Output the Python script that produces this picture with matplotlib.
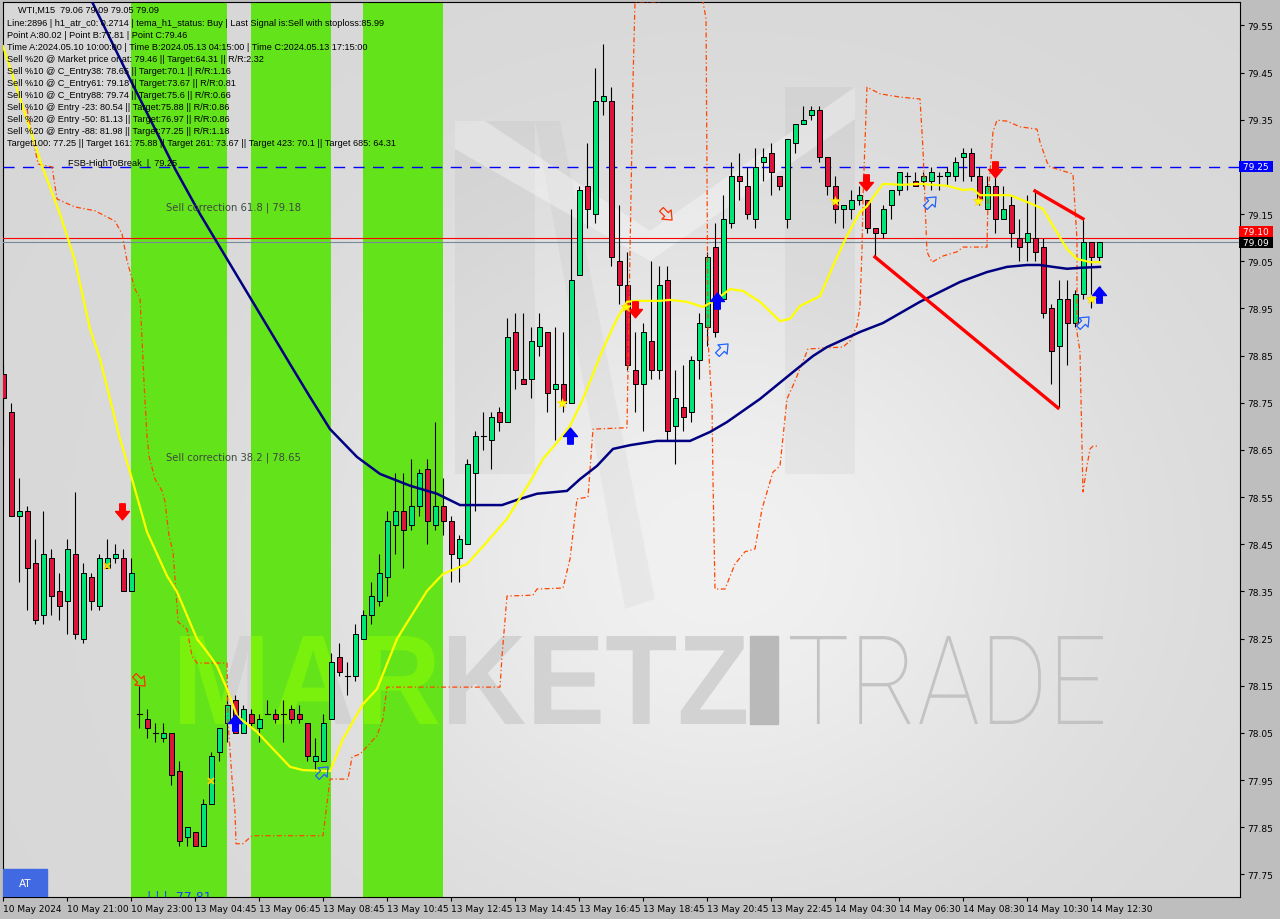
import numpy as np
import matplotlib
matplotlib.use("Agg")
import matplotlib.pyplot as plt
from matplotlib.patches import Rectangle, PathPatch, Polygon
from matplotlib.path import Path
from matplotlib.textpath import TextPath
from matplotlib.font_manager import FontProperties
from matplotlib.transforms import Affine2D

W, H = 1280, 920

# --- OHLC (WTI M15), one value per candle ---
opens = [78.81, 78.73, 78.51, 78.52, 78.41, 78.30, 78.42, 78.35, 78.33, 78.43,
         78.25, 78.38, 78.32, 78.40, 78.42, 78.42, 78.35, 78.09, 78.08, 78.05,
         78.04, 78.05, 77.97, 77.83, 77.84, 77.81, 77.90, 78.01, 78.07, 78.12,
         78.05, 78.09, 78.06, 78.09, 78.09, 78.09, 78.10, 78.09, 78.07, 77.99,
         77.99, 78.08, 78.21, 78.17, 78.17, 78.25, 78.30, 78.33, 78.38, 78.49,
         78.52, 78.49, 78.53, 78.61, 78.49, 78.53, 78.50, 78.42, 78.45, 78.60,
         78.68, 78.67, 78.73, 78.71, 78.90, 78.80, 78.80, 78.87, 78.90, 78.78,
         78.79, 78.75, 79.02, 79.21, 79.15, 79.39, 79.39, 79.05, 79.00, 78.82,
         78.79, 78.88, 78.82, 79.01, 78.70, 78.74, 78.73, 78.84, 78.91, 79.08,
         78.97, 79.13, 79.23, 79.21, 79.14, 79.26, 79.28, 79.23, 79.14, 79.30,
         79.34, 79.36, 79.37, 79.27, 79.21, 79.16, 79.16, 79.18, 79.18, 79.12,
         79.11, 79.17, 79.20, 79.23, 79.22, 79.22, 79.22, 79.23, 79.23, 79.23,
         79.27, 79.28, 79.23, 79.16, 79.21, 79.14, 79.17, 79.10, 79.09, 79.10,
         79.08, 78.95, 78.87, 78.97, 78.92, 78.98, 79.09, 79.06]
highs = [78.83, 78.75, 78.59, 78.53, 78.46, 78.52, 78.44, 78.39, 78.46, 78.56,
         78.41, 78.39, 78.43, 78.46, 78.45, 78.44, 78.42, 78.15, 78.10, 78.07,
         78.07, 78.05, 77.99, 77.85, 77.84, 77.91, 78.01, 78.06, 78.13, 78.13,
         78.11, 78.10, 78.09, 78.12, 78.10, 78.12, 78.11, 78.11, 78.07, 78.04,
         78.09, 78.22, 78.24, 78.20, 78.28, 78.31, 78.37, 78.43, 78.52, 78.60,
         78.60, 78.63, 78.61, 78.63, 78.71, 78.59, 78.51, 78.47, 78.63, 78.69,
         78.73, 78.73, 78.74, 78.93, 78.94, 78.94, 78.91, 78.94, 78.90, 78.91,
         78.90, 79.16, 79.21, 79.30, 79.46, 79.51, 79.42, 79.17, 79.07, 78.90,
         78.92, 79.05, 79.04, 79.04, 78.82, 78.83, 78.85, 78.94, 79.07, 79.13,
         79.19, 79.26, 79.28, 79.25, 79.29, 79.29, 79.30, 79.23, 79.31, 79.34,
         79.38, 79.38, 79.38, 79.27, 79.23, 79.17, 79.20, 79.21, 79.18, 79.12,
         79.17, 79.20, 79.24, 79.24, 79.24, 79.24, 79.25, 79.24, 79.25, 79.27,
         79.29, 79.29, 79.25, 79.23, 79.23, 79.21, 79.19, 79.14, 79.19, 79.20,
         79.10, 78.96, 79.01, 79.01, 78.99, 79.14, 79.09, 79.09]
lows = [78.66, 78.51, 78.37, 78.31, 78.28, 78.28, 78.30, 78.29, 78.26, 78.25,
        78.24, 78.31, 78.31, 78.40, 78.41, 78.35, 78.35, 78.06, 78.04, 78.03,
        78.03, 77.94, 77.81, 77.81, 77.81, 77.81, 77.90, 77.99, 78.03, 78.05,
        78.05, 78.06, 78.03, 78.09, 78.07, 78.03, 78.07, 78.07, 77.99, 77.97,
        77.99, 78.08, 78.17, 78.13, 78.16, 78.25, 78.28, 78.32, 78.34, 78.43,
        78.40, 78.48, 78.51, 78.45, 78.48, 78.47, 78.37, 78.37, 78.45, 78.52,
        78.65, 78.61, 78.69, 78.71, 78.78, 78.79, 78.76, 78.85, 78.73, 78.67,
        78.73, 78.75, 79.02, 79.12, 79.13, 79.36, 79.04, 78.96, 78.82, 78.73,
        78.69, 78.80, 78.80, 78.67, 78.62, 78.69, 78.71, 78.80, 78.87, 78.89,
        78.97, 79.12, 79.18, 79.14, 79.12, 79.22, 79.19, 79.20, 79.12, 79.28,
        79.34, 79.35, 79.26, 79.19, 79.13, 79.12, 79.14, 79.17, 79.11, 79.06,
        79.10, 79.14, 79.19, 79.20, 79.21, 79.21, 79.20, 79.20, 79.21, 79.22,
        79.22, 79.22, 79.17, 79.16, 79.11, 79.14, 79.08, 79.05, 79.05, 79.05,
        78.93, 78.79, 78.74, 78.83, 78.91, 78.97, 78.95, 79.05]
closes = [78.76, 78.51, 78.52, 78.40, 78.29, 78.43, 78.34, 78.32, 78.44, 78.26,
          78.39, 78.33, 78.42, 78.42, 78.43, 78.35, 78.39, 78.09, 78.06, 78.05,
          78.05, 77.96, 77.82, 77.85, 77.81, 77.90, 78.00, 78.06, 78.11, 78.05,
          78.10, 78.07, 78.08, 78.09, 78.08, 78.09, 78.08, 78.08, 78.00, 78.00,
          78.07, 78.20, 78.18, 78.17, 78.26, 78.30, 78.34, 78.39, 78.50, 78.52,
          78.48, 78.53, 78.60, 78.50, 78.53, 78.50, 78.43, 78.46, 78.62, 78.68,
          78.68, 78.72, 78.71, 78.89, 78.82, 78.79, 78.88, 78.91, 78.77, 78.79,
          78.75, 79.01, 79.20, 79.16, 79.39, 79.40, 79.06, 79.00, 78.83, 78.79,
          78.90, 78.82, 79.00, 78.69, 78.76, 78.72, 78.84, 78.92, 79.06, 78.90,
          79.14, 79.23, 79.22, 79.15, 79.25, 79.27, 79.24, 79.21, 79.31, 79.34,
          79.35, 79.37, 79.27, 79.21, 79.16, 79.17, 79.18, 79.19, 79.12, 79.11,
          79.16, 79.20, 79.24, 79.23, 79.21, 79.23, 79.24, 79.23, 79.24, 79.26,
          79.28, 79.23, 79.18, 79.21, 79.14, 79.16, 79.11, 79.08, 79.11, 79.07,
          78.94, 78.86, 78.97, 78.92, 78.98, 79.09, 79.06, 79.09]

time_labels = ["10 May 2024", "10 May 21:00", "10 May 23:00", "13 May 04:45",
               "13 May 06:45", "13 May 08:45", "13 May 10:45", "13 May 12:45",
               "13 May 14:45", "13 May 16:45", "13 May 18:45", "13 May 20:45",
               "13 May 22:45", "14 May 04:30", "14 May 06:30", "14 May 08:30",
               "14 May 10:30", "14 May 12:30"]
price_ticks = [77.75, 77.85, 77.95, 78.05, 78.15, 78.25, 78.35, 78.45, 78.55,
               78.65, 78.75, 78.85, 78.95, 79.05, 79.15, 79.25, 79.35, 79.45, 79.55]

# sell-zone bands (candle index from/to)
band_from = [16, 31, 45]
band_to = [28, 41, 55]

# yellow fast average (vertex index, price)
yel_idx = [-0.04, 4.84, 7.09, 8.96, 10.84, 12.09, 13.34, 14.59, 15.84, 17.96, 20.46,
           21.71, 24.21, 25.46, 26.71, 27.96, 29.21, 30.46, 31.71, 33.71, 35.84,
           37.46, 40.84, 42.46, 44.96, 46.71, 49.21, 49.96, 52.96, 54.96, 57.96,
           60.46, 62.96, 65.84, 67.46, 69.59, 70.84, 72.46, 74.96, 76.71, 77.96,
           79.21, 82.09, 83.34, 85.46, 87.46, 89.21, 90.84, 92.46, 94.59, 97.09,
           98.34, 99.59, 102.09, 103.71, 105.46, 107.09, 107.96, 109.96, 112.46,
           114.59, 117.96, 119.96, 121.21, 122.09, 125.84, 128.34, 129.96, 131.21,
           132.96, 134.21, 135.84, 137.09]
yel_val = [79.506, 79.252, 79.150, 79.051, 78.906, 78.843, 78.758, 78.673, 78.603,
           78.476, 78.383, 78.349, 78.249, 78.222, 78.192, 78.143, 78.086, 78.069,
           78.052, 78.016, 77.978, 77.971, 77.969, 78.037, 78.111, 78.143, 78.249,
           78.270, 78.351, 78.387, 78.408, 78.455, 78.504, 78.582, 78.631, 78.673,
           78.701, 78.758, 78.864, 78.928, 78.964, 78.966, 78.966, 78.968, 78.964,
           78.953, 78.970, 78.991, 78.987, 78.964, 78.923, 78.928, 78.955, 78.976,
           79.040, 79.104, 79.154, 79.167, 79.214, 79.212, 79.214, 79.210, 79.201,
           79.203, 79.190, 79.190, 79.173, 79.161, 79.125, 79.076, 79.055, 79.048,
           79.048]

# navy slow average
navy_idx = [11.09, 15.84, 21.46, 24.59, 28.34, 32.09, 35.84, 38.34, 40.84, 44.21,
            47.09, 50.84, 54.21, 57.09, 62.34, 64.21, 66.71, 70.46, 72.09, 74.21,
            76.21, 78.34, 81.71, 85.84, 88.34, 90.46, 94.59, 98.71, 101.21, 102.96,
            107.09, 109.96, 114.59, 119.59, 122.96, 125.46, 127.96, 129.59, 131.21,
            132.96, 134.59, 137.09]
navy_val = [79.600, 79.436, 79.246, 79.150, 79.044, 78.938, 78.832, 78.762, 78.694,
            78.635, 78.599, 78.574, 78.557, 78.533, 78.533, 78.544, 78.557, 78.563,
            78.588, 78.616, 78.652, 78.660, 78.669, 78.669, 78.688, 78.709, 78.758,
            78.815, 78.849, 78.868, 78.900, 78.919, 78.964, 79.006, 79.027, 79.038,
            79.042, 79.042, 79.038, 79.034, 79.036, 79.038]

# orange-red stepped channel
chan_idx = [2.96, 3.71, 4.34, 6.09, 6.71, 8.96, 11.46, 13.96, 14.84, 15.46, 16.46,
            17.09, 17.46, 17.59, 17.96, 18.21, 18.96, 19.84, 20.21, 20.71, 21.21,
            21.46, 21.84, 22.96, 23.59, 24.21, 27.96, 28.09, 28.59, 28.96, 29.09,
            29.96, 31.09, 39.96, 40.84, 43.09, 43.59, 44.59, 46.71, 47.46, 47.96,
            62.09, 62.34, 62.96, 66.21, 66.71, 69.96, 70.84, 71.71, 73.09, 73.71,
            77.96, 78.34, 78.71, 78.96, 82.09, 82.34, 87.09, 87.46, 87.84, 88.09,
            88.59, 88.71, 88.96, 90.21, 91.46, 92.71, 93.96, 94.84, 96.21, 97.09,
            97.96, 98.71, 99.59, 100.59, 104.96, 105.84, 106.71, 107.09, 107.34,
            107.46, 107.96, 109.59, 112.09, 114.59, 114.96, 115.46, 116.09, 117.46,
            119.21, 119.96, 122.96, 123.09, 123.71, 124.21, 125.46, 127.09, 129.21,
            129.59, 130.46, 130.84, 133.71, 134.21, 134.21, 134.59, 134.96, 135.46,
            135.84, 136.21, 136.84]
chan_val = [79.373, 79.309, 79.256, 79.250, 79.182, 79.165, 79.157, 79.135, 79.108,
            79.051, 78.991, 78.970, 78.843, 78.790, 78.680, 78.637, 78.588, 78.563,
            78.540, 78.468, 78.434, 78.377, 78.285, 78.270, 78.213, 78.198, 78.198,
            78.073, 77.952, 77.882, 77.815, 77.815, 77.832, 77.832, 77.952, 77.952,
            77.999, 78.005, 78.044, 78.080, 78.147, 78.147, 78.213, 78.340, 78.342,
            78.355, 78.357, 78.419, 78.546, 78.550, 78.694, 78.697, 79.070, 79.430,
            79.600, 79.600, 79.648, 79.648, 79.600, 79.564, 78.885, 78.743, 78.588,
            78.355, 78.355, 78.408, 78.434, 78.440, 78.525, 78.603, 78.616, 78.758,
            78.786, 78.822, 78.864, 78.868, 78.881, 78.913, 78.955, 79.076, 79.182,
            79.419, 79.405, 79.398, 79.394, 79.288, 79.070, 79.048, 79.061, 79.070,
            79.080, 79.080, 79.182, 79.324, 79.349, 79.347, 79.335, 79.330, 79.303,
            79.260, 79.250, 79.235, 79.097, 78.900, 78.858, 78.561, 78.616, 78.652,
            78.658, 78.658]

# red pattern legs
leg1_idx, leg1_val = [128.96, 134.96], [79.199, 79.140]
leg2_idx, leg2_val = [108.96, 131.84], [79.059, 78.739]

# signal markers
sell_idx, sell_val = [14.84, 78.96, 107.84, 123.96], [78.521, 78.949, 79.218, 79.246]
buy_idx, buy_val = [28.96, 70.84, 89.21, 136.96], [78.071, 78.680, 78.966, 78.979]
hsell_idx, hsell_val = [16.96, 82.84], [78.162, 79.150]
hbuy_idx, hbuy_val = [39.84, 89.84, 115.84, 134.96], [77.967, 78.864, 79.176, 78.921]
star_idx, star_val = [69.84, 77.84, 103.96, 121.84, 135.96], [78.750, 78.953, 79.178, 79.178, 78.970]
cross_idx, cross_val = [12.96, 25.96], [78.404, 77.948]

fsb_level = 79.25
bid_level = 79.09
ask_level = 79.10

info_lines = [
    "Line:2896 | h1_atr_c0: 0.2714 | tema_h1_status: Buy | Last Signal is:Sell with stoploss:85.99",
    "Point A:80.02 | Point B:77.81 | Point C:79.46",
    "Time A:2024.05.10 10:00:00 | Time B:2024.05.13 04:15:00 | Time C:2024.05.13 17:15:00",
    "Sell %20 @ Market price or at: 79.46 || Target:64.31 || R/R:2.32",
    "Sell %10 @ C_Entry38: 78.65 || Target:70.1 || R/R:1.16",
    "Sell %10 @ C_Entry61: 79.18 || Target:73.67 || R/R:0.81",
    "Sell %10 @ C_Entry88: 79.74 || Target:75.6 || R/R:0.66",
    "Sell %10 @ Entry -23: 80.54 || Target:75.88 || R/R:0.86",
    "Sell %20 @ Entry -50: 81.13 || Target:76.97 || R/R:0.86",
    "Sell %20 @ Entry -88: 81.98 || Target:77.25 || R/R:1.18",
    "Target100: 77.25 || Target 161: 75.88 || Target 261: 73.67 || Target 423: 70.1 || Target 685: 64.31",
]

# --- figure ---
YTOP, YBOT = 79.5996, 77.702
XL, XR = -0.04, 154.59
fig = plt.figure(figsize=(W / 100, H / 100), dpi=100, facecolor="#bebebe")
ax = fig.add_axes([3 / W, 22 / H, 1237 / W, 895 / H])
ax.set_xlim(XL, XR)
ax.set_ylim(YBOT, YTOP)

# background shading
u = np.linspace(0, 1, 300)[None, :]
v = np.linspace(0, 1, 300)[:, None]
shade = 0.845 + 0.10 * np.exp(-((u - 0.58) ** 2 / 0.10 + (v - 0.62) ** 2 / 0.15))
ax.imshow(np.dstack([shade] * 3), extent=[XL, XR, YBOT, YTOP], aspect="auto",
          zorder=0, interpolation="bilinear")

# faint "M" logo behind the chart (pixel coords from top-left)
def px_poly(pts, **kw):
    p = Polygon([(x, H - y) for x, y in pts], closed=True, transform=None, **kw)
    ax.add_artist(p)
    return p


px_poly([(455, 122), (535, 122), (535, 475), (455, 475)], facecolor="black", alpha=0.035,
        edgecolor="none", zorder=0.5)
px_poly([(785, 88), (855, 88), (855, 475), (785, 475)], facecolor="black", alpha=0.035,
        edgecolor="none", zorder=0.5)
px_poly([(535, 122), (560, 122), (655, 600), (625, 610)], facecolor="black", alpha=0.03,
        edgecolor="none", zorder=0.5)
px_poly([(455, 122), (485, 122), (650, 232), (855, 88), (855, 120), (650, 262), (455, 150)],
        facecolor="white", alpha=0.35, edgecolor="none", zorder=0.5)


# watermark words
def word_patch(txt, box, prop, color, zorder):
    tp = TextPath((0, 0), txt, size=100, prop=prop)
    bb = tp.get_extents()
    x0, y0, x1, y1 = box
    tr = (Affine2D().translate(-bb.x0, -bb.y0)
          .scale((x1 - x0) / bb.width, (y1 - y0) / bb.height)
          .translate(x0, H - y1))
    p = PathPatch(tr.transform_path(tp), facecolor=color, edgecolor="none",
                  zorder=zorder, transform=None)
    ax.add_artist(p)
    return p


bold = FontProperties(family="Liberation Sans", weight="bold")
thin = FontProperties(family="Roboto", weight="light")
word_patch("MARKETZ", (180, 637, 746, 725), bold, "#d2d2d2", 1)
ax.add_artist(Rectangle((750, H - 725), 28, 88, transform=None, color="#b9b9b9", zorder=1))
word_patch("TRADE", (790, 637, 1103, 725), thin, "#c3c3c3", 1)

# green bands
for a, b in zip(band_from, band_to):
    r = Rectangle((a, YBOT), b - a, YTOP - YBOT, facecolor="#63e41a", edgecolor="none", zorder=2)
    ax.add_patch(r)
    wp = word_patch("MARKETZ", (180, 637, 746, 725), bold, "#7af10c", 2.1)
    wp.set_clip_path(r)

# horizontal levels
ax.axhline(fsb_level, color="#0000ff", lw=1, ls=(0, (8, 6)), zorder=3)
ax.axhline(ask_level, color="#ff0000", lw=0.8, zorder=3)
ax.axhline(bid_level, color="#778899", lw=0.8, zorder=3)

# candles
for i, (o, h, l, c) in enumerate(zip(opens, highs, lows, closes)):
    ax.plot([i, i], [l, h], color="black", lw=0.8, zorder=4, solid_capstyle="butt")
    if abs(c - o) < 1e-9:
        ax.plot([i - 0.32, i + 0.32], [o, o], color="black", lw=0.8, zorder=5)
    else:
        col = "#00e676" if c > o else "#dc143c"
        ax.add_patch(Rectangle((i - 0.32, min(o, c)), 0.64, abs(c - o), facecolor=col,
                               edgecolor="black", lw=0.7, zorder=5))

# indicator lines
ax.plot(chan_idx, chan_val, color="#ff4500", lw=0.9, ls=(0, (4, 2, 1, 2)), zorder=6)
ax.plot(navy_idx, navy_val, color="#000080", lw=1.8, zorder=6)
ax.plot(yel_idx, yel_val, color="#ffff00", lw=1.6, zorder=7)
ax.plot(leg1_idx, leg1_val, color="#ff0000", lw=2.4, zorder=7)
ax.plot(leg2_idx, leg2_val, color="#ff0000", lw=2.4, zorder=7)

# markers
base = np.array([(-0.2, 0.55), (0.2, 0.55), (0.2, 0.0), (0.5, 0.0), (0.0, -0.6),
                 (-0.5, 0.0), (-0.2, 0.0), (-0.2, 0.55)])


def arrow(deg):
    t = np.radians(deg)
    rot = np.array([[np.cos(t), -np.sin(t)], [np.sin(t), np.cos(t)]])
    return Path(base @ rot.T, closed=True)


ax.plot(sell_idx, sell_val, ls="none", marker=arrow(0), ms=12, mfc="#ff0000", mec="#ff0000", zorder=8)
ax.plot(buy_idx, buy_val, ls="none", marker=arrow(180), ms=12, mfc="#0000ff", mec="#0000ff", zorder=8)
ax.plot(hsell_idx, hsell_val, ls="none", marker=arrow(45), ms=10, mfc="none", mec="#ff3000", mew=0.9, zorder=8)
ax.plot(hbuy_idx, hbuy_val, ls="none", marker=arrow(135), ms=10, mfc="none", mec="#2060ff", mew=0.9, zorder=8)
ax.plot(star_idx, star_val, ls="none", marker="*", ms=7, color="#ffff00", mec="#ffd000", mew=0.4, zorder=8)
ax.plot(cross_idx, cross_val, ls="none", marker="x", ms=5, color="#ffd000", mew=1.4, zorder=8)

# axes styling
for s in ax.spines.values():
    s.set_color("black")
    s.set_linewidth(0.8)
ax.yaxis.tick_right()
ax.set_yticks(price_ticks)
# the 79.25 level is shown by its own box on the scale
ax.set_yticklabels(["" if abs(p - fsb_level) < 1e-6 else f"{p:.2f}" for p in price_ticks])
ax.set_xticks(range(0, 8 * len(time_labels), 8))
ax.set_xticklabels(time_labels)
for lab in ax.get_xticklabels():
    lab.set_horizontalalignment("left")
ax.tick_params(axis="both", labelsize=6.5, length=3, width=0.8, color="black", pad=2,
               labelcolor="black")


# price boxes on the right scale
def price_box(y_val, text, bg, fg):
    ax.text(1.0, y_val, " " + text + " ", transform=ax.get_yaxis_transform(), ha="left",
            va="center", fontsize=6.5, color=fg, clip_on=False, zorder=10,
            bbox=dict(boxstyle="square,pad=0.12", facecolor=bg, edgecolor="none"))


price_box(fsb_level, "79.25", "#0000ff", "white")
price_box(ask_level + 0.012, "79.10", "#ff0000", "white")
price_box(bid_level, "79.09", "black", "white")

# text overlays
fig.text(18 / W, 1 - 10.5 / H, "WTI,M15  79.06 79.09 79.05 79.09", fontsize=6.6,
         family="Liberation Sans", va="center", color="black")
for n, line in enumerate(info_lines):
    fig.text(7 / W, 1 - (24 + 12 * n) / H, line, fontsize=6.6, family="Liberation Sans",
             va="center", color="black")
fig.text(68 / W, 1 - 163 / H, "FSB-HighToBreak  |  79.25", fontsize=6.6,
         family="Liberation Sans", va="center", color="black")
fig.text(166 / W, 1 - 208 / H, "Sell correction 61.8 | 79.18", fontsize=7.2,
         family="DejaVu Sans", va="center", color="#3c4a3c")
fig.text(166 / W, 1 - 458 / H, "Sell correction 38.2 | 78.65", fontsize=7.2,
         family="DejaVu Sans", va="center", color="#3c4a3c")
ax.text(147, 897, "| | |  77.81", transform=Affine2D().scale(1, -1).translate(0, H),
        fontsize=9, color="#1e3cff", va="center", ha="left", zorder=9, clip_on=True)

# AT box
ax.add_artist(Rectangle((3, H - 898), 44, 28, transform=None, color="#4169e1", zorder=9))
fig.text(25 / W, 1 - 884 / H, "AT", fontsize=7.5, color="white", ha="center", va="center")

fig.savefig("out.png", dpi=100, facecolor=fig.get_facecolor())
